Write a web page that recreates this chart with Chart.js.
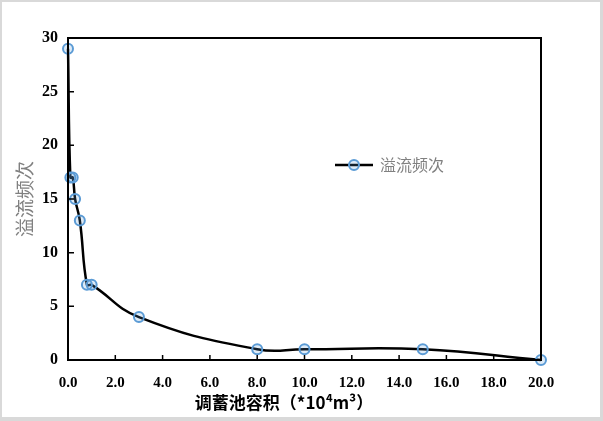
<!DOCTYPE html>
<html>
<head>
<meta charset="utf-8">
<script src="https://cdn.jsdelivr.net/npm/chart.js@4.4.0/dist/chart.umd.min.js"></script>
<style>
  html, body { margin: 0; padding: 0; background: #d9d9d9; }
  #frame { position: absolute; left: 2px; top: 2px; width: 598px; height: 415px; background: #fff; }
  #wrap { position: absolute; left: 0; top: 0; width: 603px; height: 421px; }
</style>
</head>
<body>
<div id="frame"></div>
<div id="wrap"><canvas id="c" width="603" height="421"></canvas></div>
<script>
// ---------- data ----------
const volumes = [0.0, 0.1, 0.2, 0.3, 0.5, 0.8, 1.0, 3.0, 8.0, 10.0, 15.0, 20.0];
const overflowCounts = [29, 17, 17, 15, 13, 7, 7, 4, 1, 1, 1, 0];
const seriesName = '溢流频次';
const xTitle = '调蓄池容积（*10⁴m³）';
const yTitle = '溢流频次';

const points = volumes.map((v, i) => ({ x: v, y: overflowCounts[i] }));

const serif = "'Liberation Serif', 'Times New Roman', serif";
const cjk = "'Noto Sans CJK SC', sans-serif";

// box around plot, inward ticks, legend, x title
const extras = {
    id: 'extras',
    afterDraw(chart) {
        const ctx = chart.ctx;
        const a = chart.chartArea;
        const xs = chart.scales.x, ys = chart.scales.y;
        ctx.save();
        ctx.strokeStyle = '#000';
        ctx.lineWidth = 2;
        ctx.strokeRect(a.left, a.top, a.right - a.left, a.bottom - a.top);
        ctx.lineWidth = 1.5;
        ctx.beginPath();
        xs.ticks.forEach(t => {
            const px = xs.getPixelForValue(t.value);
            ctx.moveTo(px, a.bottom);
            ctx.lineTo(px, a.bottom - 5);
        });
        ys.ticks.forEach(t => {
            const py = ys.getPixelForValue(t.value);
            ctx.moveTo(a.left, py);
            ctx.lineTo(a.left + 6, py);
        });
        ctx.stroke();

        // legend
        const ly = 165;
        ctx.strokeStyle = '#000';
        ctx.lineWidth = 2.5;
        ctx.beginPath();
        ctx.moveTo(335, ly);
        ctx.lineTo(373, ly);
        ctx.stroke();
        ctx.beginPath();
        ctx.arc(354, ly, 5, 0, Math.PI * 2);
        ctx.fillStyle = 'rgba(91,155,213,0.2)';
        ctx.fill();
        ctx.strokeStyle = '#5b9bd5';
        ctx.lineWidth = 2;
        ctx.stroke();
        ctx.fillStyle = '#808080';
        ctx.font = '16px ' + cjk;
        ctx.textBaseline = 'middle';
        ctx.textAlign = 'left';
        ctx.fillText(seriesName, 380, ly);

        // x title
        ctx.fillStyle = '#000';
        ctx.font = 'bold 17px ' + cjk;
        ctx.textAlign = 'center';
        ctx.fillText(xTitle, 284, 403);
        ctx.restore();
    }
};

new Chart(document.getElementById('c'), {
    type: 'line',
    data: {
        datasets: [{
            label: seriesName,
            data: points,
            borderColor: '#000',
            borderWidth: 2.5,
            tension: 0.45,
            pointRadius: 5,
            pointBorderWidth: 2,
            pointBorderColor: '#5b9bd5',
            pointBackgroundColor: 'rgba(91,155,213,0.2)',
            clip: false
        }]
    },
    options: {
        responsive: false,
        animation: false,
        layout: { padding: { top: 38, right: 62, bottom: 0, left: 0 } },
        plugins: { legend: { display: false }, tooltip: { enabled: false } },
        scales: {
            x: {
                type: 'linear',
                min: 0, max: 20,
                afterFit: s => { s.height = 61; },
                grid: { display: false, drawTicks: false },
                border: { display: false },
                ticks: {
                    stepSize: 2,
                    padding: 14,
                    color: '#000',
                    font: { family: serif, size: 15, weight: 'bold' },
                    callback: v => Number(v).toFixed(1)
                }
            },
            y: {
                min: 0, max: 30,
                afterFit: s => { s.width = 68; },
                grid: { display: false, drawTicks: false },
                border: { display: false },
                ticks: {
                    stepSize: 5,
                    padding: 10,
                    color: '#000',
                    font: { family: serif, size: 16, weight: 'bold' }
                },
                title: {
                    display: true,
                    text: yTitle,
                    color: '#808080',
                    font: { family: cjk, size: 19 },
                    padding: { top: 13, bottom: 0 }
                }
            }
        }
    },
    plugins: [extras]
});
</script>
</body>
</html>
